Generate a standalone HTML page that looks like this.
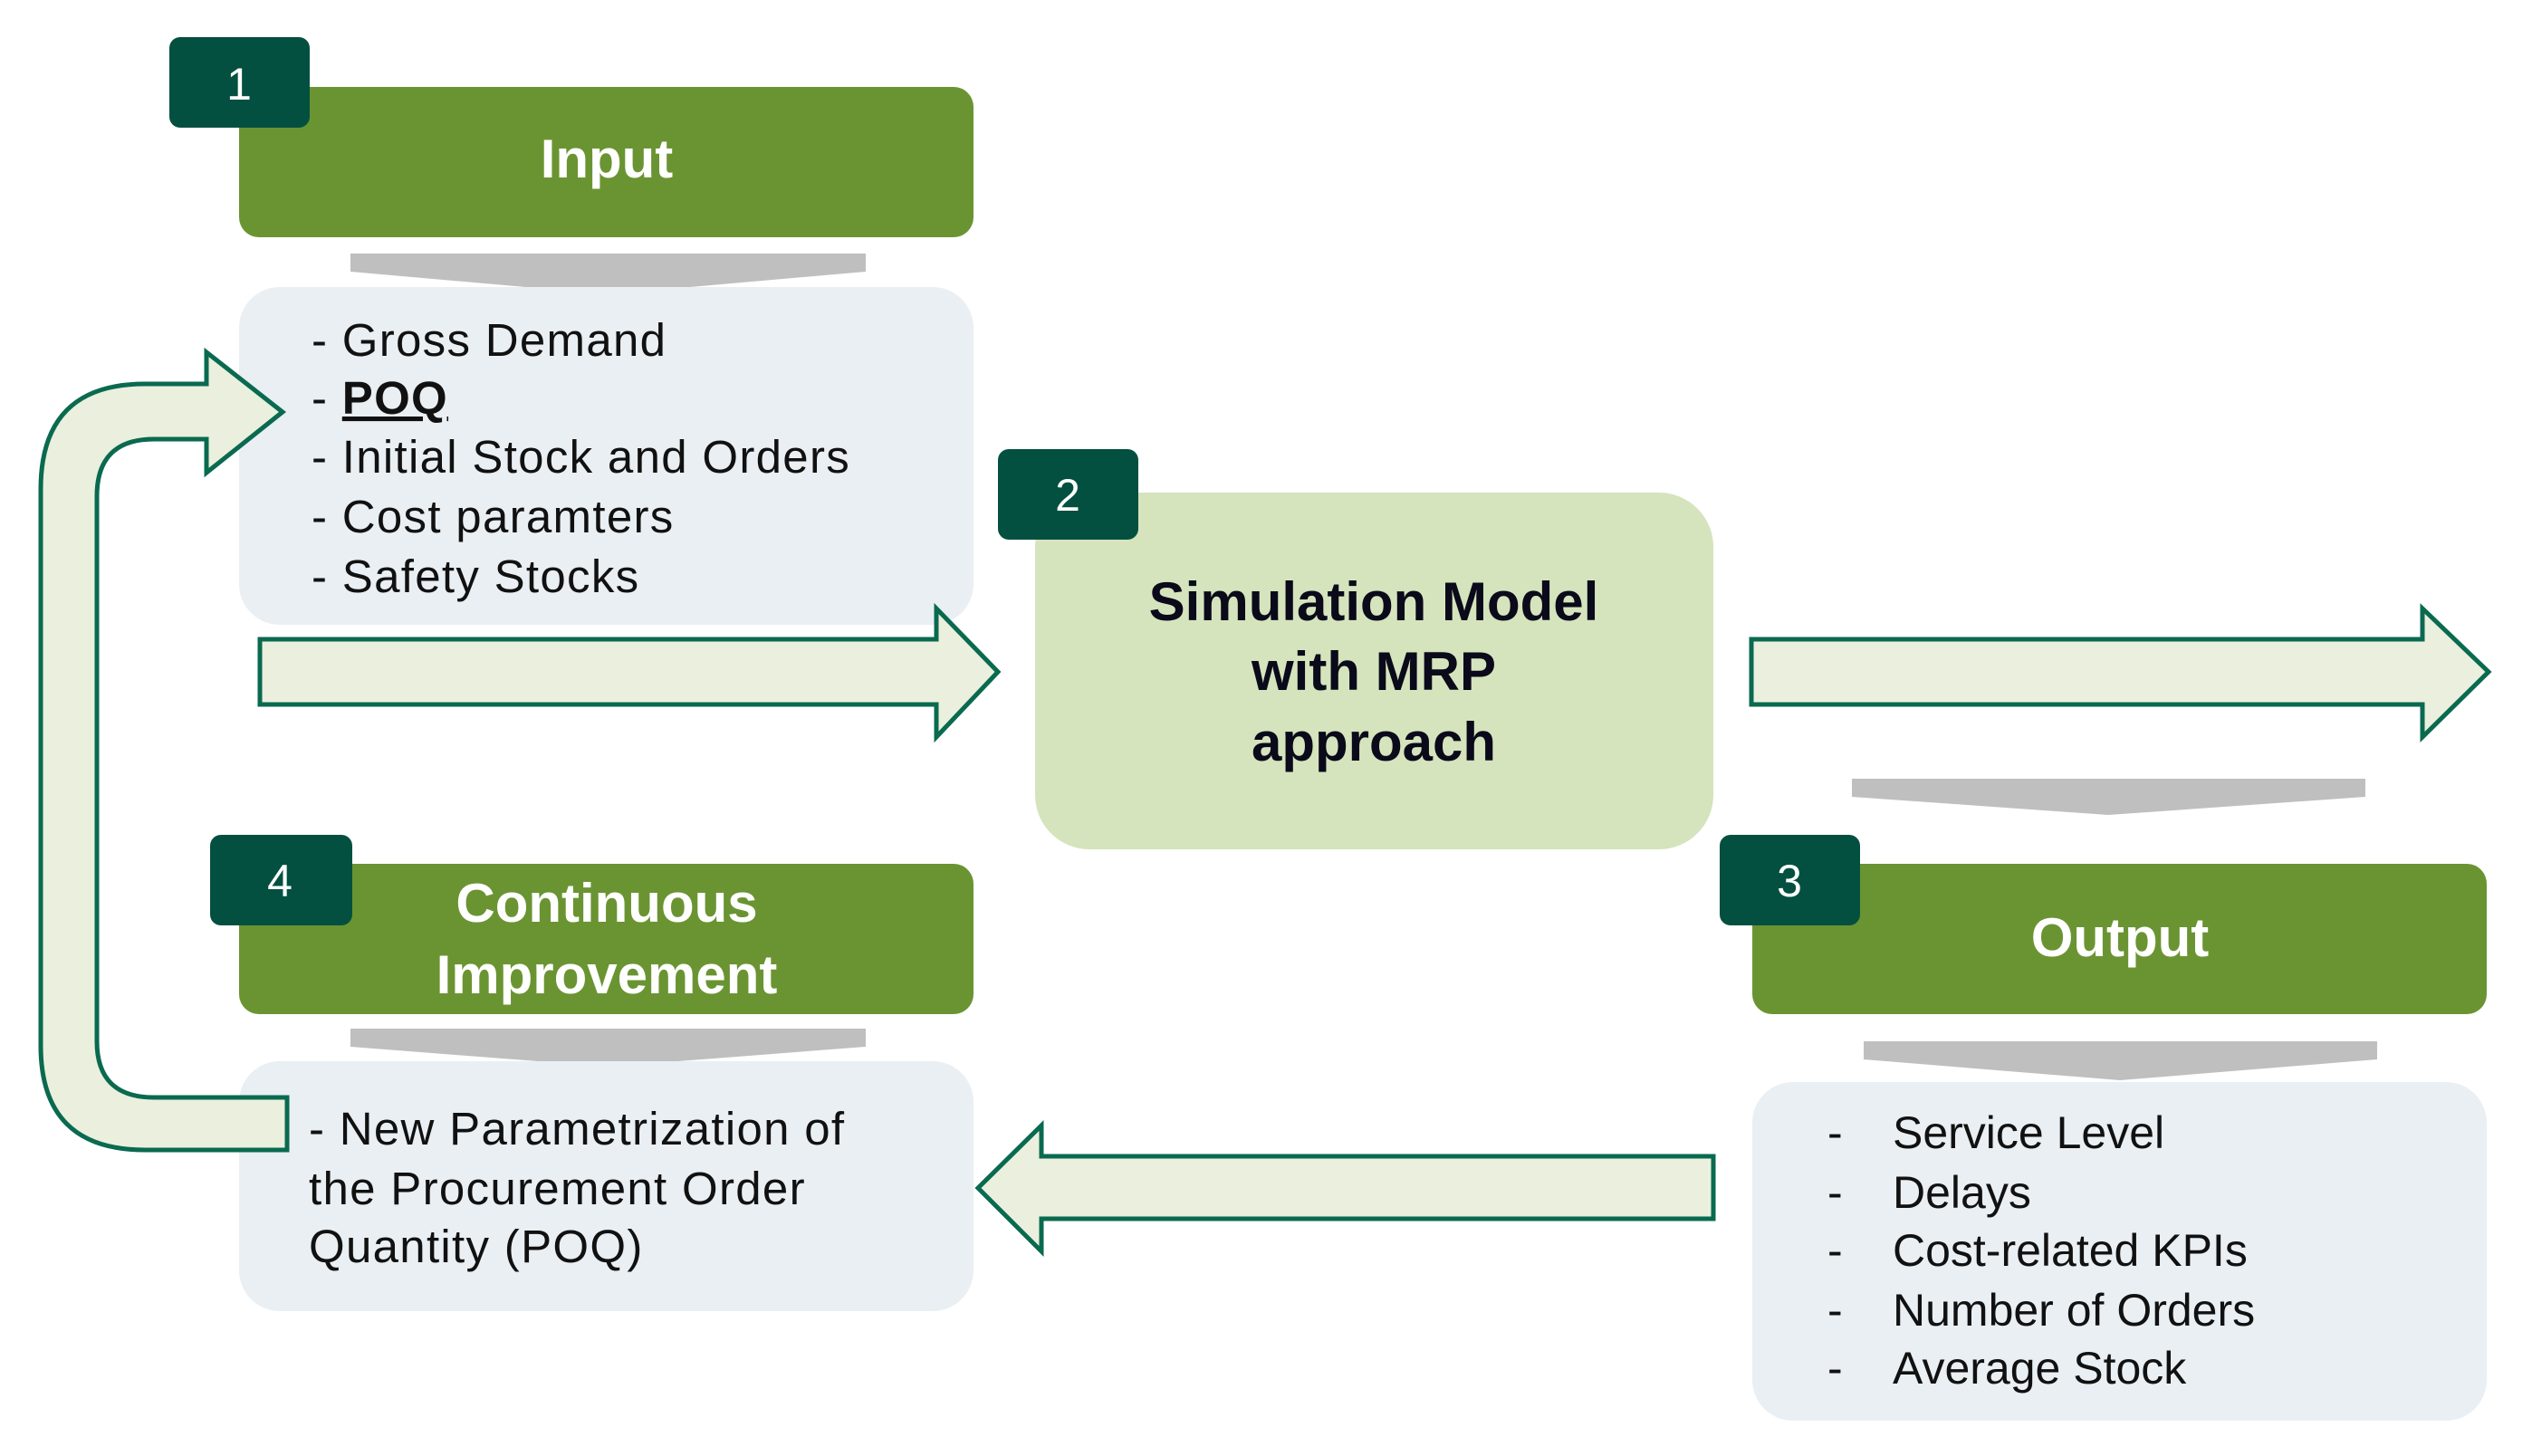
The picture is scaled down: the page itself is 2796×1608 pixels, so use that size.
<!DOCTYPE html>
<html><head><meta charset="utf-8"><style>
html,body{margin:0;padding:0;background:#fff}
svg{display:block}
.t{font-family:"Liberation Sans",sans-serif}
</style></head><body>
<svg width="2796" height="1608" viewBox="0 0 2796 1608" xmlns="http://www.w3.org/2000/svg">
<!-- Input -->
<rect x="264" y="96" width="811" height="166" rx="22" fill="#6a9432"/>
<rect x="187" y="41" width="155" height="100" rx="12" fill="#045040"/>
<text x="264" y="110" class="t" font-size="50" fill="#fff" text-anchor="middle">1</text>
<text x="670" y="196" class="t" font-size="60" font-weight="bold" fill="#fff" text-anchor="middle">Input</text>
<polygon points="387,280 956,280 956,300 671,325 387,300" fill="#bfbfbf"/>
<rect x="264" y="317" width="811" height="373" rx="45" fill="#e9eff3"/>
<g class="t" font-size="51" fill="#111" letter-spacing="1.3">
<text x="344" y="393">- Gross Demand</text>
<text x="344" y="457">- <tspan font-weight="bold" text-decoration="underline">POQ</tspan></text>
<text x="344" y="522">- Initial Stock and Orders</text>
<text x="344" y="588">- Cost paramters</text>
<text x="344" y="654">- Safety Stocks</text>
</g>
<!-- arrow 1 -->
<polygon points="287,706 1034,706 1034,672 1102,742 1034,814 1034,778 287,778" fill="#eaf0dd" stroke="#0a6a50" stroke-width="5"/>
<!-- Sim box -->
<rect x="1143" y="544" width="749" height="394" rx="60" fill="#d5e4bc"/>
<rect x="1102" y="496" width="155" height="100" rx="12" fill="#045040"/>
<text x="1179" y="564" class="t" font-size="50" fill="#fff" text-anchor="middle">2</text>
<g class="t" font-size="60" font-weight="bold" fill="#0a0a1a" text-anchor="middle">
<text x="1517" y="685">Simulation Model</text>
<text x="1517" y="762">with MRP</text>
<text x="1517" y="840">approach</text>
</g>
<!-- arrow 2 -->
<polygon points="1934,706 2675,706 2675,672 2748,742 2675,814 2675,778 1934,778" fill="#eaf0dd" stroke="#0a6a50" stroke-width="5"/>
<polygon points="2045,860 2612,860 2612,880 2328,900 2045,880" fill="#bfbfbf"/>
<!-- Output -->
<rect x="1935" y="954" width="811" height="166" rx="22" fill="#6a9432"/>
<rect x="1899" y="922" width="155" height="100" rx="12" fill="#045040"/>
<text x="1976" y="990" class="t" font-size="50" fill="#fff" text-anchor="middle">3</text>
<text x="2341" y="1056" class="t" font-size="60" font-weight="bold" fill="#fff" text-anchor="middle">Output</text>
<polygon points="2058,1150 2625,1150 2625,1170 2341,1193 2058,1170" fill="#bfbfbf"/>
<rect x="1935" y="1195" width="811" height="374" rx="45" fill="#e9eff3"/>
<g class="t" font-size="50" fill="#111">
<text x="2018" y="1268">-</text><text x="2090" y="1268">Service Level</text>
<text x="2018" y="1334">-</text><text x="2090" y="1334">Delays</text>
<text x="2018" y="1398">-</text><text x="2090" y="1398">Cost-related KPIs</text>
<text x="2018" y="1464">-</text><text x="2090" y="1464">Number  of Orders</text>
<text x="2018" y="1528">-</text><text x="2090" y="1528">Average Stock</text>
</g>
<!-- left arrow -->
<polygon points="1892,1277 1150,1277 1150,1243 1080,1312 1150,1382 1150,1346 1892,1346" fill="#eaf0dd" stroke="#0a6a50" stroke-width="5"/>
<!-- CI -->
<rect x="264" y="954" width="811" height="166" rx="22" fill="#6a9432"/>
<rect x="232" y="922" width="157" height="100" rx="12" fill="#045040"/>
<text x="309" y="990" class="t" font-size="50" fill="#fff" text-anchor="middle">4</text>
<g class="t" font-size="60" font-weight="bold" fill="#fff" text-anchor="middle">
<text x="670" y="1018">Continuous</text>
<text x="670" y="1097">Improvement</text>
</g>
<polygon points="387,1136 956,1136 956,1156 671,1178 387,1156" fill="#bfbfbf"/>
<rect x="264" y="1172" width="811" height="276" rx="45" fill="#e9eff3"/>
<g class="t" font-size="51" fill="#111" letter-spacing="1.3">
<text x="341" y="1264">- New Parametrization of</text>
<text x="341" y="1330">the Procurement Order</text>
<text x="341" y="1394">Quantity (POQ)</text>
</g>
<!-- U-turn arrow -->
<path d="M317,1212 L317,1270 L160,1270 Q45,1270 45,1155 L45,540 Q45,424 160,424 L228,424 L228,389 L312,455 L228,522 L228,485 L170,485 Q107,485 107,548 L107,1150 Q107,1212 170,1212 Z" fill="#eaf0dd" stroke="#0a6a50" stroke-width="5"/>
</svg>
</body></html>
